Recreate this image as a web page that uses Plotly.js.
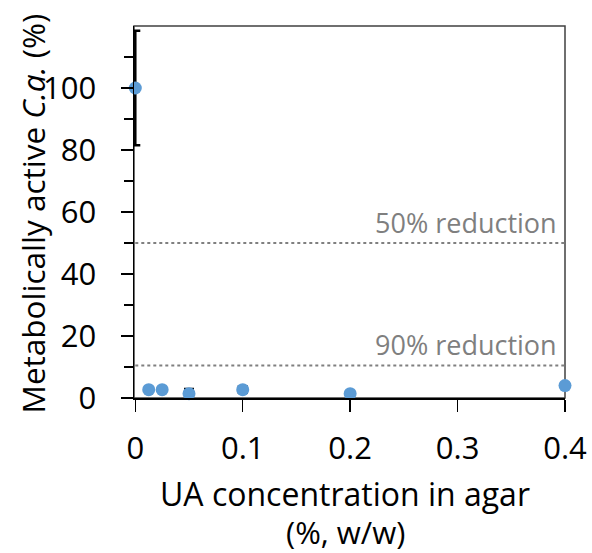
<!DOCTYPE html>
<html>
<head>
<meta charset="utf-8">
<script src="https://cdn.plot.ly/plotly-3.0.1.min.js"></script>
<style>
html,body{margin:0;padding:0;background:#fff;}
#chart{width:592px;height:553px;}
</style>
</head>
<body>
<div id="chart"></div>
<script>
// Data
const uaConcentration = [0, 0.0125, 0.025, 0.05, 0.1, 0.2, 0.4];
const metabolicallyActive = [100, 2.7, 2.7, 1.4, 2.7, 1.4, 4.0];
const errorValues = [18.5, 0, 0, 1.5, 1.0, 0, 0];
const referenceLevels = [50, 10.5];
const referenceLabels = ['50% reduction', '90% reduction'];
const refXRange = [0, 0.4];
const xTickVals = [0, 0.1, 0.2, 0.3, 0.4];
const xTickText = ['0', '0.1', '0.2', '0.3', '0.4'];
const yTickVals = [0, 20, 40, 60, 80, 100];
const yMinorVals = [10, 30, 50, 70, 90, 110];

const FONT = 'Open Sans, Liberation Sans, sans-serif';

const traces = [];
referenceLevels.forEach((lvl, i) => {
  traces.push({
    type: 'scatter', mode: 'lines',
    x: refXRange, y: [lvl, lvl],
    line: {color: '#808080', width: 2, dash: 'dot'},
    hoverinfo: 'skip', showlegend: false
  });
});
traces.push({
  type: 'scatter', mode: 'markers',
  x: uaConcentration, y: metabolicallyActive,
  marker: {color: '#5B9BD5', size: 13},
  error_y: {type: 'data', array: errorValues, visible: true, color: '#000000', thickness: 2.5, width: 5},
  cliponaxis: false, showlegend: false
});

const annotations = referenceLevels.map((lvl, i) => ({
  x: refXRange[1], y: lvl, xref: 'x', yref: 'y',
  text: referenceLabels[i], showarrow: false,
  xanchor: 'right', yanchor: 'bottom', xshift: -6, yshift: 0,
  font: {family: FONT, size: 27, color: '#7f7f7f'}
}));
annotations.push({
  xref: 'paper', yref: 'paper', x: 0.49, y: -0.256,
  text: 'UA concentration in agar', showarrow: false,
  xanchor: 'center', yanchor: 'middle',
  font: {family: FONT, size: 32, color: '#000'}
});
annotations.push({
  xref: 'paper', yref: 'paper', x: 0.49, y: -0.36,
  text: '(%, w/w)', showarrow: false,
  xanchor: 'center', yanchor: 'middle',
  font: {family: FONT, size: 31, color: '#000'}
});
annotations.push({
  xref: 'paper', yref: 'paper', x: -0.236, y: 0.497,
  text: 'Metabolically active <i>C.a.</i> (%)', showarrow: false,
  textangle: -90, xanchor: 'center', yanchor: 'middle',
  font: {family: FONT, size: 31.5, color: '#000'}
});

const layout = {
  width: 592, height: 553,
  margin: {l: 134, r: 27, t: 26, b: 155},
  paper_bgcolor: '#fff', plot_bgcolor: '#fff',
  showlegend: false,
  xaxis: {
    range: [-0.0012, 0.4], tickmode: 'array', tickvals: xTickVals, ticktext: xTickText,
    showgrid: false, zeroline: false, showline: true, linecolor: '#000', linewidth: 1.5,
    ticks: 'outside', ticklen: 12, tickwidth: 1.5, tickcolor: '#000',
    ticklabelstandoff: 10,
    tickfont: {family: FONT, size: 31, color: '#000'}
  },
  yaxis: {
    range: [0, 120], tickmode: 'array', tickvals: yTickVals,
    showgrid: false, zeroline: false, showline: true, linecolor: '#000', linewidth: 1.5,
    ticks: 'outside', ticklen: 12, tickwidth: 1.5, tickcolor: '#000',
    ticklabelstandoff: 18,
    minor: {tickmode: 'array', tickvals: yMinorVals, ticks: 'outside', ticklen: 9, tickwidth: 1.5, tickcolor: '#000', showgrid: false},
    tickfont: {family: FONT, size: 31, color: '#000'}
  },
  shapes: [{
    type: 'rect', xref: 'paper', yref: 'paper', x0: 0, x1: 1, y0: 0, y1: 1,
    line: {color: '#404040', width: 1.5}, layer: 'below'
  }],
  annotations: annotations
};

Plotly.newPlot('chart', traces, layout, {displayModeBar: false, staticPlot: true});
</script>
</body>
</html>
